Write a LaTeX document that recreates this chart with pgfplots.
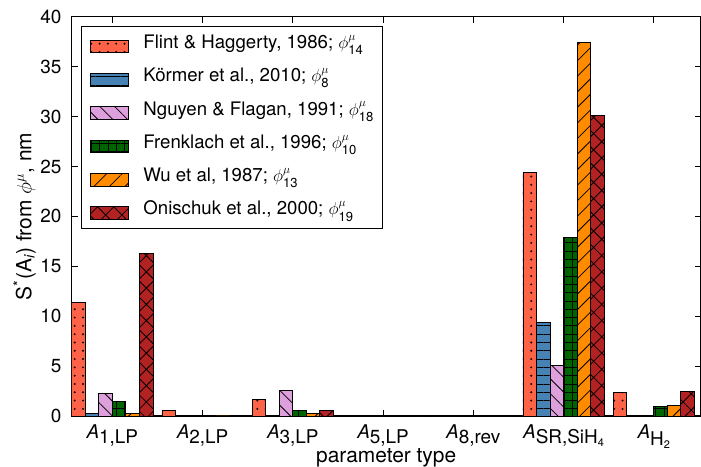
\documentclass[border=0pt]{standalone}
\usepackage{fontspec}
\setmainfont{TeX Gyre Heros}
\usepackage{amsmath}
\usepackage{pgfplots}
\usepackage{pgfplotstable}
\pgfplotsset{compat=1.18}
\usetikzlibrary{patterns.meta}

\definecolor{cFlint}{HTML}{FF6347}
\definecolor{cKormer}{HTML}{4682B4}
\definecolor{cNguyen}{HTML}{DDA0DD}
\definecolor{cFrenklach}{HTML}{006400}
\definecolor{cWu}{HTML}{FF8C00}
\definecolor{cOnischuk}{HTML}{B22222}

% lowered subscript used in the parameter names
\newcommand{\sub}[1]{\raisebox{-5bp}{#1}}
\newcommand{\ssub}[1]{\raisebox{-3bp}{\fontsize{11}{11}\selectfont #1}}

% S*(A_i) in nm for each parameter (rows) and each reference (columns)
\pgfplotstableread{
x flint kormer nguyen frenklach wu onischuk
0 11.35 0.27 2.27 1.50 0.30 16.30
1 0.60 0.10 0.08 0.02 0.01 0.00
2 1.67 0.02 2.60 0.53 0.30 0.60
3 0.05 0.00 0.00 0.10 0.08 0.00
4 0.00 0.00 0.03 0.00 0.00 0.00
5 24.40 9.35 5.10 17.90 37.40 30.10
6 2.37 0.02 0.00 0.93 1.07 2.50
}\datatable

\begin{document}
\begin{tikzpicture}
\begin{axis}[
  scale only axis, width=629bp, height=399.3bp,
  xmin=-0.45, xmax=6.52, ymin=0, ymax=40,
  ybar, bar width=0.15,
  xtick={0,...,6},
  xticklabels={
    {\textit{A}\sub{1,LP}},
    {\textit{A}\sub{2,LP}},
    {\textit{A}\sub{3,LP}},
    {\textit{A}\sub{5,LP}},
    {\textit{A}\sub{8,rev}},
    {\textit{A}\sub{SR,SiH\ssub{4}}},
    {\textit{A}\raisebox{-7bp}{H\ssub{2}}}},
  ytick={0,5,...,40},
  /pgf/number format/assume math mode=true,
  tick align=inside, major tick length=6bp,
  tick style={black, line width=0.9bp},
  axis line style={line width=1.2bp},
  every tick label/.append style={font=\fontsize{19}{22}\selectfont},
  xticklabel style={anchor=base, inner sep=0pt, yshift=-22bp},
  yticklabel style={anchor=east, inner sep=0pt, xshift=-10bp},
  xlabel={parameter type},
  xlabel style={font=\fontsize{21}{24}\selectfont, inner sep=0pt,
    at={([yshift=-46.5bp]axis description cs:0.5,0)}, anchor=base},
  ylabel={S\textsuperscript{*}(A\textsubscript{\textit{i}}) from $\phi^{\mu}$, nm},
  ylabel style={font=\fontsize{21}{24}\selectfont, inner sep=0pt,
    at={([xshift=-58.7bp]axis description cs:0,0.5)}, anchor=north},
  legend cell align=left,
  legend style={at={(axis description cs:0.0143,0.9767)}, anchor=north west,
    draw=black, line width=0.9bp, font=\fontsize{18.7}{22}\selectfont,
    inner xsep=8.5bp, inner ysep=8bp, row sep=14.3bp,
    nodes={inner sep=0pt, text height=14bp, text depth=5bp},
    /tikz/every odd column/.append style={column sep=15bp}},
  legend image code/.code={\draw[#1, line width=0.8bp] (0bp,-8.9bp) rectangle (38bp,3.8bp);},
  pattern color=black,
]
\addplot[fill=cFlint, draw=black, line width=0.8bp, bar shift=-0.375,
  postaction={pattern={Dots[radius=1.1bp,distance=8.3bp]}}]
  table[x=x, y=flint] {\datatable};
\addlegendentry{Flint \& Haggerty, 1986; $\phi^{\mu}_{\text{14}}$}
\addplot[fill=cKormer, draw=black, line width=0.8bp, bar shift=-0.225,
  postaction={pattern={Lines[angle=0,distance=8.3bp,line width=0.8bp]}}]
  table[x=x, y=kormer] {\datatable};
\addlegendentry{Körmer et al., 2010; $\phi^{\mu}_{\text{8}}$}
\addplot[fill=cNguyen, draw=black, line width=0.8bp, bar shift=-0.075,
  postaction={pattern={Lines[angle=-45,distance=10.5bp,line width=0.8bp]}}]
  table[x=x, y=nguyen] {\datatable};
\addlegendentry{Nguyen \& Flagan, 1991; $\phi^{\mu}_{\text{18}}$}
\addplot[fill=cFrenklach, draw=black, line width=0.8bp, bar shift=0.075,
  postaction={pattern={Hatch[angle=0,distance=8.3bp,line width=0.8bp]}}]
  table[x=x, y=frenklach] {\datatable};
\addlegendentry{Frenklach et al., 1996; $\phi^{\mu}_{\text{10}}$}
\addplot[fill=cWu, draw=black, line width=0.8bp, bar shift=0.225,
  postaction={pattern={Lines[angle=45,distance=11bp,line width=0.8bp]}}]
  table[x=x, y=wu] {\datatable};
\addlegendentry{Wu et al, 1987; $\phi^{\mu}_{\text{13}}$}
\addplot[fill=cOnischuk, draw=black, line width=0.8bp, bar shift=0.375,
  postaction={pattern={Hatch[angle=45,distance=11.5bp,line width=0.8bp]}}]
  table[x=x, y=onischuk] {\datatable};
\addlegendentry{Onischuk et al., 2000; $\phi^{\mu}_{\text{19}}$}
\coordinate (bl) at (rel axis cs:0,0);
\coordinate (tr) at (rel axis cs:1,1);
\end{axis}
\pgfresetboundingbox
\path[use as bounding box] ([shift={(-71.7bp,-51bp)}]bl) rectangle ([shift={(0.3bp,16.7bp)}]tr);
\end{tikzpicture}
\end{document}
